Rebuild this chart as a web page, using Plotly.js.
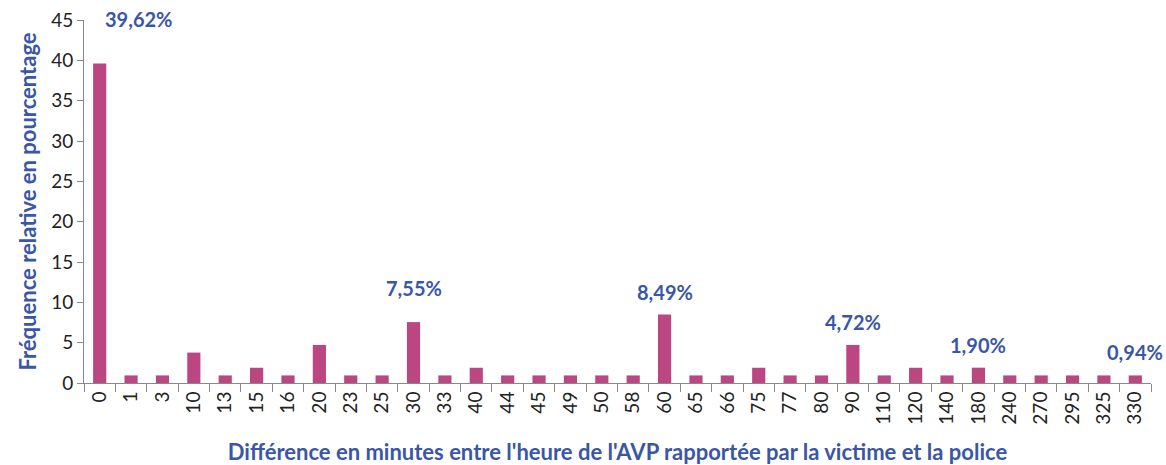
<!DOCTYPE html>
<html><head><meta charset="utf-8">
<script src="https://cdn.plot.ly/plotly-3.0.1.min.js"></script>
<style>html,body{margin:0;padding:0;background:#fff}#chart{width:1166px;height:465px}</style>
</head><body><div id="chart"></div>
<script>
const categories = ["0","1","3","10","13","15","16","20","23","25","30","33","40","44","45","49","50","58","60","65","66","75","77","80","90","110","120","140","180","240","270","295","325","330"];
const values = [39.62,0.94,0.94,3.77,0.94,1.89,0.94,4.72,0.94,0.94,7.55,0.94,1.89,0.94,0.94,0.94,0.94,0.94,8.49,0.94,0.94,1.89,0.94,0.94,4.72,0.94,1.89,0.94,1.90,0.94,0.94,0.94,0.94,0.94];
const labelledCats = ["0","30","60","90","180","330"];
const labelTexts = ["39,62%","7,55%","8,49%","4,72%","1,90%","0,94%"];

const blue = "#3A56A6";
const shifts = {"0":[39,44],"30":[0,34]};
const annotations = labelledCats.map((c,i)=>{
  const idx = categories.indexOf(c);
  const v = values[idx];
  const s = shifts[c] || [0,23];
  return {x:idx, y:v, xref:"x", yref:"y", text:"<b>"+labelTexts[i]+"</b>", showarrow:false,
    xshift:s[0], yshift:s[1], yanchor:"middle",
    font:{family:"Lato, 'Open Sans', sans-serif", size:20, color:blue}};
});

const trace = {type:"bar", x:categories, y:values, marker:{color:"#BB4682"}, hoverinfo:"x+y"};
const layout = {
  width:1166, height:465,
  margin:{l:84, r:15, t:20, b:82},
  paper_bgcolor:"#fff", plot_bgcolor:"#fff",
  bargap:0.58,
  showlegend:false,
  font:{family:"Lato, 'Open Sans', sans-serif", size:18, color:"#222"},
  xaxis:{type:"category", range:[-0.5, categories.length-0.5], tickangle:-90, tickson:"boundaries", ticks:"outside", ticklen:8,
    tickcolor:"#888", showline:true, linecolor:"#888", linewidth:1, showgrid:false,
    tickfont:{size:19, color:"#222"}, automargin:false,
    title:{text:"<b>Différence en minutes entre l'heure de l'AVP rapportée par la victime et la police</b>", font:{size:22, color:blue}, standoff:24}},
  yaxis:{range:[0,45], dtick:5, ticks:"outside", ticklen:6, tickcolor:"#888", showline:true,
    linecolor:"#888", linewidth:1, showgrid:false, zeroline:false, automargin:false,
    tickfont:{size:19, color:"#222"},
    title:{text:"<b>Fréquence relative en pourcentage</b>", font:{size:22, color:blue}, standoff:8}},
  annotations:annotations
};
Plotly.newPlot("chart",[trace],layout,{displayModeBar:false, staticPlot:true});
</script></body></html>
